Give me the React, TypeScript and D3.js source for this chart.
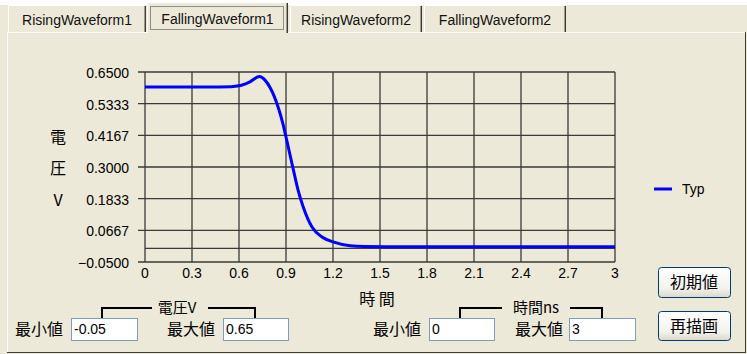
import React from "react";
import * as d3 from "d3";

// Waveform samples: time in ns, Typ voltage in V
const timeNs = [0, 0.2, 0.4, 0.55, 0.6, 0.62, 0.67, 0.73, 0.766, 0.8, 0.85, 0.88, 0.91, 0.945, 0.977, 1.01, 1.066, 1.13, 1.2, 1.31, 1.4, 1.6, 2.0, 2.5, 3.0];
const typV = [0.595, 0.595, 0.595, 0.596, 0.599, 0.602, 0.614, 0.633, 0.62, 0.591, 0.52, 0.46, 0.385, 0.295, 0.215, 0.153, 0.079, 0.042, 0.024, 0.01, 0.007, 0.006, 0.006, 0.006, 0.006];

const yTicks = [-0.05, 0.0667, 0.1833, 0.3, 0.4167, 0.5333, 0.65];
const xTicks = [0, 0.3, 0.6, 0.9, 1.2, 1.5, 1.8, 2.1, 2.4, 2.7, 3];
const tabNames = ["RisingWaveform1", "FallingWaveform1", "RisingWaveform2", "FallingWaveform2"];
const seriesName = "Typ";
const voltMin = "-0.05";
const voltMax = "0.65";
const timeMin = "0";
const timeMax = "3";

const BG = "#ECE9D8";
const GRID = "#3a3a3a";
const JP = "'Noto Sans CJK JP', 'Noto Sans', sans-serif";
const LAT = "'Liberation Sans', Arial, sans-serif";

const tabBoxes = [
  { x0: 8, x1: 146 },
  { x0: 147, x1: 288 },
  { x0: 290, x1: 422 },
  { x0: 424, x1: 566 },
];
const activeTab = 1;

function Tab({ x0, x1, label, active }: { x0: number; x1: number; label: string; active: boolean }) {
  const top = active ? 2 : 5;
  const bottom = active ? 33 : 32;
  return (
    <g>
      <rect x={x0} y={top} width={x1 - x0} height={bottom - top} fill={BG} />
      <line x1={x0 + 0.5} y1={bottom} x2={x0 + 0.5} y2={top + 0.5} stroke="#fff" />
      <line x1={x0} y1={top + 0.5} x2={x1 - 1} y2={top + 0.5} stroke="#fff" />
      <line x1={x1 - 1.5} y1={top + 1} x2={x1 - 1.5} y2={bottom} stroke="#9d9a8c" />
      <line x1={x1 - 0.5} y1={top + 1} x2={x1 - 0.5} y2={bottom} stroke="#3c3b36" />
      {active && (
        <rect x={x0 + 3.5} y={top + 4.5} width={x1 - x0 - 8} height={bottom - top - 8}
          fill="none" stroke="#333" strokeDasharray="1,1" />
      )}
      <text x={(x0 + x1) / 2} y={active ? 24 : 25} textAnchor="middle" fontFamily={LAT} fontSize={14} fill="#111">
        {label}
      </text>
    </g>
  );
}

function InputBox({ x, y, w, h, value }: { x: number; y: number; w: number; h: number; value: string }) {
  return (
    <g>
      <rect x={x + 0.5} y={y + 0.5} width={w} height={h} fill="#fff" stroke="#7F9DB9" />
      <text x={x + 3} y={y + h / 2 + 5} fontFamily={LAT} fontSize={14} fill="#000">{value}</text>
    </g>
  );
}

function Button({ x, y, w, h, label }: { x: number; y: number; w: number; h: number; label: string }) {
  return (
    <g>
      <rect x={x + 0.5} y={y + 0.5} width={w} height={h} rx={3} fill="url(#btnGrad)" stroke="#003C74" />
      <text x={x + w / 2} y={y + h / 2 + 6} textAnchor="middle" fontFamily={JP} fontSize={16} fill="#000">{label}</text>
    </g>
  );
}

export default function App() {
  const x = d3.scaleLinear().domain([0, 3]).range([145, 615]);
  const y = d3.scaleLinear().domain([-0.05, 0.65]).range([262, 72]);
  const pts = timeNs.map((t, i) => [t, typV[i]] as [number, number]);
  const line = d3.line<[number, number]>()
    .x((d) => x(d[0]))
    .y((d) => y(d[1]))
    .curve(d3.curveMonotoneX);
  const fmtY = d3.format(".4f");
  const fmtX = (v: number) => (v === 0 || v === 3 ? String(v) : d3.format(".1f")(v));
  const [x0, x1] = x.range();
  const [yb, yt] = y.range();

  return (
    <svg width={747} height={354} style={{ position: "fixed", left: 0, top: 0, display: "block" }}>
      <defs>
        <linearGradient id="btnGrad" x1="0" y1="0" x2="0" y2="1">
          <stop offset="0" stopColor="#ffffff" />
          <stop offset="0.7" stopColor="#f3f2ec" />
          <stop offset="1" stopColor="#dcd8c8" />
        </linearGradient>
      </defs>
      <rect x={0} y={0} width={747} height={354} fill="#fff" />
      <rect x={0} y={5} width={747} height={349} fill={BG} />

      {/* tab page body */}
      <rect x={7} y={32} width={739} height={321} fill={BG} />
      <line x1={7} y1={32.5} x2={745} y2={32.5} stroke="#fff" />
      <line x1={7.5} y1={32} x2={7.5} y2={352} stroke="#fff" />
      <line x1={745.5} y1={32} x2={745.5} y2={353} stroke="#3c3b36" />
      <line x1={7} y1={352.5} x2={746} y2={352.5} stroke="#3c3b36" />

      {tabNames.map((name, i) => (
        <Tab key={name} x0={tabBoxes[i].x0} x1={tabBoxes[i].x1} label={name} active={i === activeTab} />
      ))}

      {/* grid */}
      <g stroke={GRID} strokeWidth={1.3}>
        {yTicks.map((t) => (
          <line key={"h" + t} x1={x0 - 7} x2={x1} y1={y(t)} y2={y(t)} />
        ))}
        {xTicks.map((t) => (
          <line key={"v" + t} x1={x(t)} x2={x(t)} y1={yt} y2={yb} />
        ))}
        <line x1={x0} x2={x1} y1={y(0)} y2={y(0)} />
      </g>

      {/* y tick labels */}
      {yTicks.map((t) => (
        <text key={"yl" + t} x={129} y={y(t) + 6} textAnchor="end" fontFamily={LAT} fontSize={14} fill="#000">
          {fmtY(t)}
        </text>
      ))}
      {/* x tick labels */}
      {xTicks.map((t) => (
        <text key={"xl" + t} x={x(t)} y={278} textAnchor="middle" fontFamily={LAT} fontSize={14} fill="#000">
          {fmtX(t)}
        </text>
      ))}

      {/* series */}
      <path d={line(pts) || ""} fill="none" stroke="#0000FF" strokeWidth={3} strokeLinejoin="round" />

      {/* axis titles */}
      <g fontFamily={JP} fontSize={16} fill="#000" textAnchor="middle">
        <text x={58} y={143}>電</text>
        <text x={58} y={174}>圧</text>
        <text x={58} y={206}>V</text>
        <text x={377} y={305}>時 間</text>
      </g>

      {/* legend */}
      <line x1={654} x2={672} y1={189} y2={189} stroke="#0000FF" strokeWidth={3} />
      <text x={682} y={194} fontFamily={LAT} fontSize={14} fill="#000">{seriesName}</text>

      {/* range controls */}
      <g stroke="#000" strokeWidth={2} fill="none">
        <path d="M102,318V308H152" />
        <path d="M208,308H255V318" />
        <path d="M460,318V308H502" />
        <path d="M570,308H602V318" />
      </g>
      <g fontFamily={JP} fill="#000">
        <text x={177} y={313} fontSize={15} textAnchor="middle">電圧V</text>
        <text x={536} y={313} fontSize={15} textAnchor="middle">時間ns</text>
        <text x={15} y={335} fontSize={16}>最小値</text>
        <text x={167} y={335} fontSize={16}>最大値</text>
        <text x={373} y={335} fontSize={16}>最小値</text>
        <text x={515} y={335} fontSize={16}>最大値</text>
      </g>
      <InputBox x={71} y={318} w={66} h={22} value={voltMin} />
      <InputBox x={223} y={318} w={65} h={22} value={voltMax} />
      <InputBox x={429} y={318} w={65} h={22} value={timeMin} />
      <InputBox x={569} y={318} w={66} h={22} value={timeMax} />

      <Button x={658} y={267} w={72} h={30} label="初期値" />
      <Button x={658} y={311} w={72} h={29} label="再描画" />
    </svg>
  );
}
